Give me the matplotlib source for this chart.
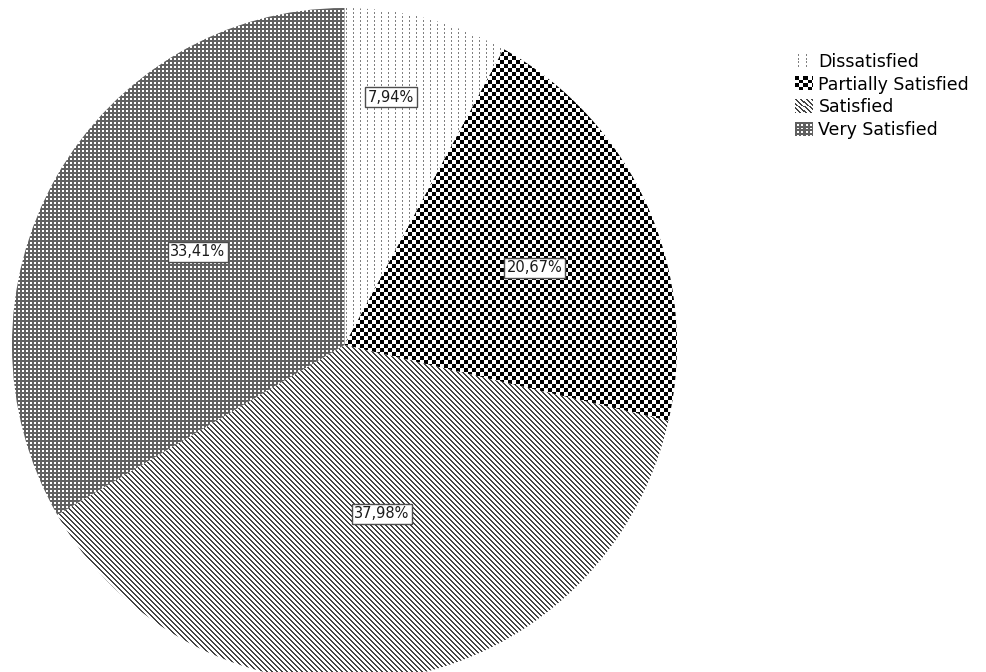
#!/usr/bin/env python3
"""Satisfaction pie chart drawn with monochrome fill textures."""

import matplotlib

matplotlib.use("Agg")
import matplotlib.pyplot as plt
import numpy as np
from matplotlib.image import BboxImage
from matplotlib.legend_handler import HandlerBase
from matplotlib.patches import Patch
from matplotlib.transforms import Bbox, TransformedBbox

categories = ["Dissatisfied", "Partially Satisfied", "Satisfied", "Very Satisfied"]
shares = [7.94, 20.67, 37.98, 33.41]
fills = ["dots", "checker", "diag", "grid"]
# label box centres, pixels from the top-left corner
label_px = [(391, 97), (535, 268), (382, 514), (198, 252)]

W, H = 987, 672
CX, CY = 344.5, 345.0  # pie centre, pixels from top-left
RX, RY = 332.5, 337.0  # the reference pie is a touch taller than wide


def texture(kind, h=H, w=W):
    """Grey-scale fill pattern as an RGB array, one cell per output pixel."""
    r, c = np.indices((h, w))
    if kind == "dots":
        ink, level = (c % 7 == 3) & (r % 4 < 2), 0.5
    elif kind == "checker":
        ink, level = ((r // 4) + (c // 4)) % 2 == 0, 0.0
    elif kind == "diag":
        ink, level = (c - r) % 5 < 2, 0.27
    else:  # grid
        ink, level = (r % 4 < 2) | (c % 4 < 2), 0.38
    gray = np.where(ink, level, 1.0)
    return np.dstack([gray, gray, gray])


class TextureHandler(HandlerBase):
    """Legend key showing a small patch of the fill texture."""

    def __init__(self, tex):
        super().__init__()
        self.tex = tex

    def create_artists(self, legend, orig_handle, xdescent, ydescent,
                       width, height, fontsize, trans):
        box = TransformedBbox(Bbox.from_bounds(-xdescent, -ydescent, width, height), trans)
        img = BboxImage(box, interpolation="nearest")
        img.set_data(self.tex)
        return [img]


def px2data(px, py):
    return (px - CX) / RX, (CY - py) / RY


def main():
    fig = plt.figure(figsize=(W / 100, H / 100), dpi=100)
    ax = fig.add_axes([0, 0, 1, 1])

    wedges, _ = ax.pie(
        shares,
        startangle=90,
        counterclock=False,
        wedgeprops=dict(facecolor="none", linewidth=0),
    )

    x0, y1 = px2data(0, 0)
    x1, y0 = px2data(W, H)
    for wedge, kind in zip(wedges, fills):
        im = ax.imshow(texture(kind), extent=(x0, x1, y0, y1), origin="upper",
                       interpolation="nearest", zorder=1)
        im.set_clip_path(wedge)

    for share, (px, py) in zip(shares, label_px):
        lx, ly = px2data(px, py)
        ax.text(lx, ly, f"{share:.2f}%".replace(".", ","), ha="center", va="center",
                fontsize=10.5, color="#1a1a1a", zorder=3,
                bbox=dict(boxstyle="square,pad=0.18", fc="white", ec="#4d4d4d", lw=1))

    ax.set_xlim(x0, x1)
    ax.set_ylim(y0, y1)
    ax.set_aspect("auto")
    ax.axis("off")

    handles = [Patch() for _ in categories]
    handler_map = {h: TextureHandler(texture(k, 15, 17)) for h, k in zip(handles, fills)}
    fig.legend(
        handles, categories,
        loc="upper left", bbox_to_anchor=(795 / W, 1 - 53 / H),
        frameon=False, fontsize=12.5,
        handlelength=1.0, handleheight=0.86, handletextpad=0.35,
        labelspacing=0.26, borderpad=0, borderaxespad=0,
        handler_map=handler_map,
    )

    fig.savefig("out.png", dpi=100)


if __name__ == "__main__":
    main()
